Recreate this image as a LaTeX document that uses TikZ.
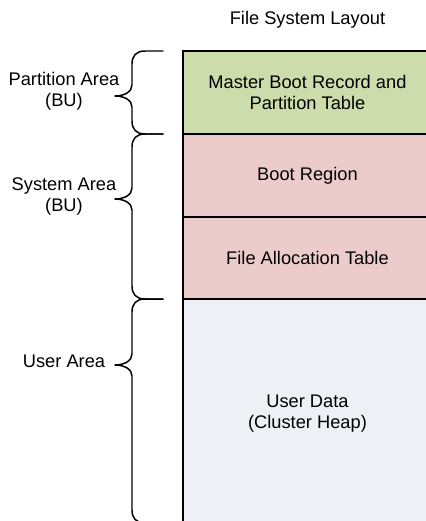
\documentclass[tikz,border=0pt]{standalone}
\usepackage{fontspec}
\setmainfont{Liberation Sans}
\usetikzlibrary{positioning}

\definecolor{mbrgreen}{RGB}{205,220,171}
\definecolor{sysred}{RGB}{236,204,203}
\definecolor{userblue}{RGB}{237,240,245}

\tikzset{
  region/.style = {draw=black, line width=0.85pt, minimum width=4.98cm,
                   inner sep=0pt, outer sep=0pt, align=center,
                   font=\fontsize{10.4}{12}\selectfont},
  arealabel/.style = {align=center, font=\fontsize{10.4}{12}\selectfont},
  bracepen/.style = {line width=0.85pt, line cap=round, line join=round}
}

% brace from top #1 to bottom #3 with its tip at #2
\newcommand{\areabrace}[3]{%
\draw[bracepen] (163,#1) -- (145,#1)
  .. controls (136,#1) and (132,{#1+5}) .. (132,{#1+13})
  -- (132,{#2-11})
  .. controls (132,{#2-4}) and (124,#2) .. (115,#2)
  .. controls (124,#2) and (132,{#2+4}) .. (132,{#2+11})
  -- (132,{#3-13})
  .. controls (132,{#3-5}) and (136,#3) .. (145,#3) -- (163,#3) ;}

\begin{document}
\begin{tikzpicture}[x=0.02cm, y=-0.02cm]
\path[use as bounding box, clip] (0,0) rectangle (426,521) ;

\node[arealabel] (title) at (307.5,20) {File System Layout} ;

\node[region, fill=mbrgreen, minimum height=1.66cm, anchor=north west]
  (mbr) at (183,51) {Master Boot Record and\\Partition Table} ;
\node[region, fill=sysred, minimum height=1.66cm, below=0pt of mbr]
  (boot) {Boot Region} ;
\node[region, fill=sysred, minimum height=1.64cm, below=0pt of boot]
  (fat) {File Allocation Table} ;
\node[region, fill=userblue, minimum height=4.58cm, below=0pt of fat]
  (heap) {User Data\\(Cluster Heap)} ;

\node[arealabel] (partarea) at (64,91.5) {Partition Area\\(BU)} ;
\node[arealabel] (sysarea) at (64,196.5) {System Area\\(BU)} ;
\node[arealabel] (userarea) at (64,361) {User Area} ;

\areabrace{51}{96}{134}
\areabrace{134}{199}{299}
\areabrace{299}{365}{523}
\end{tikzpicture}
\end{document}
